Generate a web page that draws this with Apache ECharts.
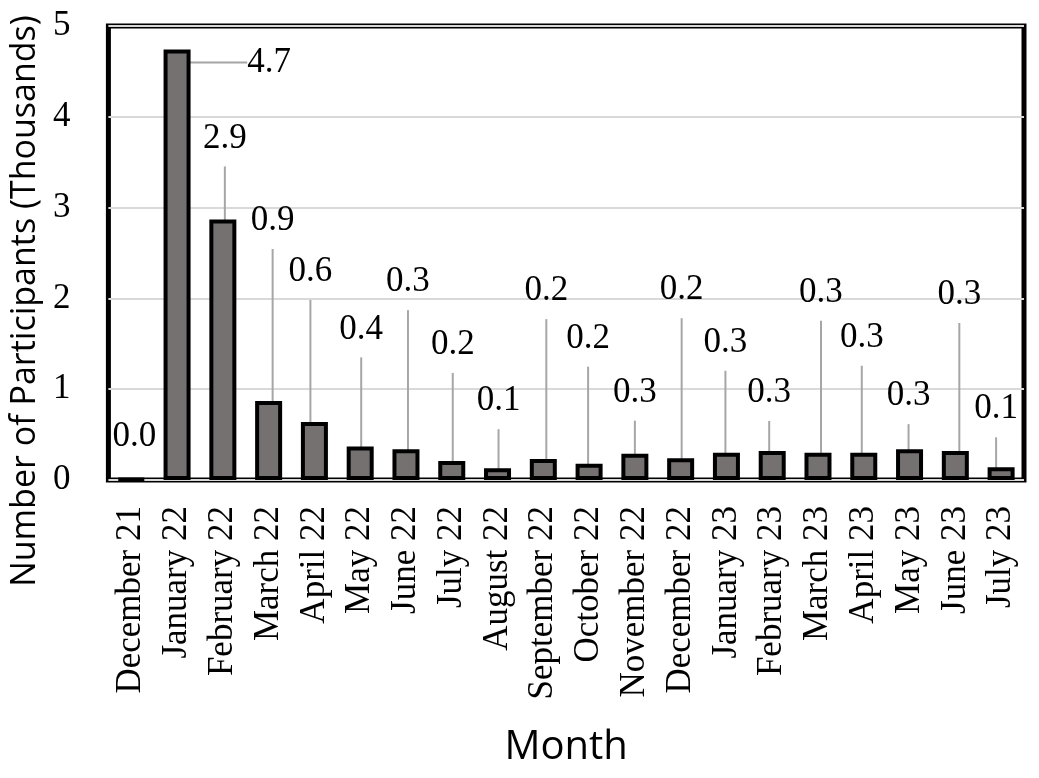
<!DOCTYPE html>
<html><head><meta charset="utf-8">
<script src="https://cdn.jsdelivr.net/npm/echarts@6/dist/echarts.min.js"></script>
<style>html,body{margin:0;padding:0;background:#fff}#c{width:1039px;height:778px}</style>
</head><body><div id="c"></div>
<script>
const months = ['December 21','January 22','February 22','March 22','April 22','May 22','June 22','July 22','August 22','September 22','October 22','November 22','December 22','January 23','February 23','March 23','April 23','May 23','June 23','July 23'];
const participants = [0.01, 4.74, 2.87, 0.87, 0.64, 0.37, 0.34, 0.21, 0.13, 0.23, 0.18, 0.29, 0.24, 0.30, 0.32, 0.30, 0.30, 0.34, 0.32, 0.14];
const yMin = 0, yMax = 5, yStep = 1;
// label placement relative to bar top-centre (px): [dx, up]
const labelOffsets = [[3,41],[92,-13],[2,81],[4,180],[-4,150],[1,117],[2,167],[1,116],[1,67],[3,168],[-1,125],[0,61],[1,168],[-1,110],[-3,58],[3,160],[-2,115],[-1,53],[4,156],[-5,58]];

const serif = 'Liberation Serif';
const sans = 'Open Sans';
const chart = echarts.init(document.getElementById('c'));
chart.setOption({
  backgroundColor: '#fff',
  animation: false,
  grid: {left: 96, right: 15, top: 26, bottom: 298, show: true, borderColor: '#000', borderWidth: 5, backgroundColor: 'transparent'},
  xAxis: {
    type: 'category', data: months,
    axisLine: {show: false}, axisTick: {show: false},
    axisLabel: {rotate: 90, interval: 0, margin: 26, fontFamily: serif, fontSize: 35, color: '#000'},
    name: 'Month', nameLocation: 'middle', nameGap: 268,
    nameTextStyle: {fontFamily: sans, fontSize: 40, color: '#000', verticalAlign: 'middle'}
  },
  yAxis: {
    type: 'value', min: yMin, max: yMax, interval: yStep,
    axisLine: {show: false}, axisTick: {show: false},
    splitLine: {lineStyle: {color: '#D9D9D9', width: 2}},
    axisLabel: {margin: 38, fontFamily: serif, fontSize: 35, color: '#000'},
    name: 'Number of Participants (Thousands)', nameLocation: 'middle', nameGap: 70,
    nameTextStyle: {fontFamily: sans, fontSize: 34, color: '#000', verticalAlign: 'middle', padding: [0, 96, 0, 0]}
  },
  series: [{
    type: 'bar',
    data: participants.map((v, i) => i === 0 ? {value: v, labelLine: {show: false}} : v),
    barWidth: 27,
    itemStyle: {color: '#767171', borderColor: '#000', borderWidth: 4},
    label: {show: true, position: 'top', formatter: p => p.value.toFixed(1), fontFamily: serif, fontSize: 35, color: '#000', lineHeight: 56},
    labelLine: {show: true, lineStyle: {color: '#A6A6A6', width: 2}},
    labelLayout: function (p) {
      const o = labelOffsets[p.dataIndex];
      return {x: p.rect.x + p.rect.width / 2 + o[0], y: p.rect.y - o[1], align: 'center', verticalAlign: 'middle'};
    }
  }]
});
</script></body></html>
